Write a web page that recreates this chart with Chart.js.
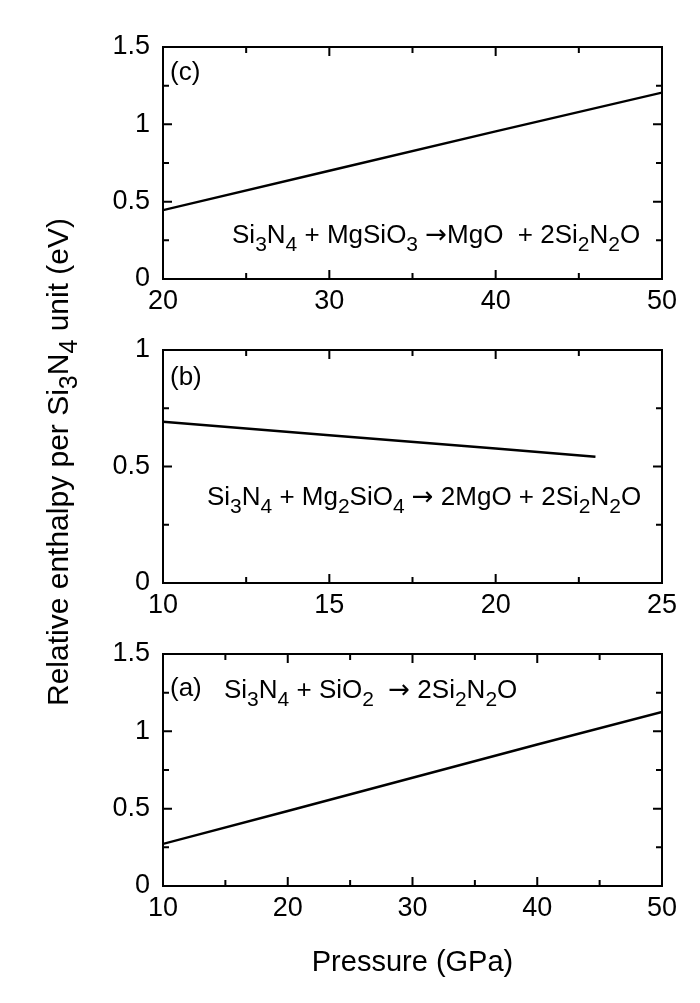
<!DOCTYPE html>
<html>
<head>
<meta charset="utf-8">
<title>Relative enthalpy vs pressure</title>
<script src="https://cdn.jsdelivr.net/npm/chart.js@4.4.1/dist/chart.umd.min.js"></script>
<style>
  html, body { margin: 0; padding: 0; background: #fff; }
  #wrap { position: relative; width: 700px; height: 1003px; }
  #wrap canvas { position: absolute; left: 0; top: 0; }
</style>
</head>
<body>
<div id="wrap">
  <canvas id="chartC" width="700" height="1003"></canvas>
  <canvas id="chartB" width="700" height="1003"></canvas>
  <canvas id="chartA" width="700" height="1003"></canvas>
</div>
<script>
// panel (c): Si3N4 + MgSiO3 -> MgO + 2Si2N2O
const pressureC = [20, 30, 40, 50];
const enthalpyC = [0.445, 0.70, 0.955, 1.205];
const xTicksC = [20, 30, 40, 50];
const yTicksC = [0, 0.5, 1, 1.5];

// panel (b): Si3N4 + Mg2SiO4 -> 2MgO + 2Si2N2O
const pressureB = [10, 15, 20, 23];
const enthalpyB = [0.692, 0.634, 0.577, 0.542];
const xTicksB = [10, 15, 20, 25];
const yTicksB = [0, 0.5, 1];

// panel (a): Si3N4 + SiO2 -> 2Si2N2O
const pressureA = [10, 20, 30, 40, 50];
const enthalpyA = [0.272, 0.485, 0.70, 0.915, 1.125];
const xTicksA = [10, 20, 30, 40, 50];
const yTicksA = [0, 0.5, 1, 1.5];

const FONT = '"Liberation Sans", Arial, Helvetica, sans-serif';
const ARROW_FONT = '"DejaVu Sans", sans-serif';
const PAGE_H = 1003;

// "_" marks the next character as a subscript; the arrow gets a wider font
function setFont(ctx, ch, sub, size) {
    const s = sub ? Math.round(size * 0.82) : size;
    ctx.font = s + 'px ' + (ch === '\u2192' ? ARROW_FONT : FONT);
}

function richWidth(ctx, str, size) {
    let w = 0;
    for (let i = 0; i < str.length; i++) {
        let ch = str[i], sub = false;
        if (ch === '_') { sub = true; ch = str[++i]; }
        setFont(ctx, ch, sub, size);
        w += ctx.measureText(ch).width;
    }
    return w;
}

function drawRich(ctx, str, x, y, size) {
    let cx = x;
    ctx.textBaseline = 'alphabetic';
    ctx.textAlign = 'left';
    for (let i = 0; i < str.length; i++) {
        let ch = str[i], sub = false;
        if (ch === '_') { sub = true; ch = str[++i]; }
        setFont(ctx, ch, sub, size);
        ctx.fillText(ch, cx, sub ? y + size * 0.3 : y);
        cx += ctx.measureText(ch).width;
    }
}

// box with inward ticks on all four sides + text notes
const framePlugin = {
    id: 'frame',
    afterDatasetsDraw(chart, args, opts) {
        const { ctx, chartArea: a } = chart;
        const xs = chart.scales.x, ys = chart.scales.y;
        const major = 9, minor = 6;
        ctx.save();
        ctx.strokeStyle = '#000';
        ctx.lineWidth = 2;
        ctx.beginPath();

        const xv = xs.ticks.map(t => t.value);
        xv.forEach((v, i) => {
            const px = xs.getPixelForValue(v);
            ctx.moveTo(px, a.bottom); ctx.lineTo(px, a.bottom - major);
            ctx.moveTo(px, a.top); ctx.lineTo(px, a.top + major);
            if (i < xv.length - 1) {
                const mx = xs.getPixelForValue((v + xv[i + 1]) / 2);
                ctx.moveTo(mx, a.bottom); ctx.lineTo(mx, a.bottom - minor);
                ctx.moveTo(mx, a.top); ctx.lineTo(mx, a.top + minor);
            }
        });
        const yv = ys.ticks.map(t => t.value);
        yv.forEach((v, i) => {
            const py = ys.getPixelForValue(v);
            ctx.moveTo(a.left, py); ctx.lineTo(a.left + major, py);
            ctx.moveTo(a.right, py); ctx.lineTo(a.right - major, py);
            if (i < yv.length - 1) {
                const my = ys.getPixelForValue((v + yv[i + 1]) / 2);
                ctx.moveTo(a.left, my); ctx.lineTo(a.left + minor, my);
                ctx.moveTo(a.right, my); ctx.lineTo(a.right - minor, my);
            }
        });
        ctx.stroke();
        ctx.strokeRect(a.left, a.top, a.right - a.left, a.bottom - a.top);

        ctx.fillStyle = '#000';
        (opts.notes || []).forEach(n => {
            drawRich(ctx, n.text, xs.getPixelForValue(n.x), ys.getPixelForValue(n.y), 26);
        });
        ctx.restore();
    }
};

// shared axis titles, drawn once on the bottom panel's canvas
const titlePlugin = {
    id: 'titles',
    afterDraw(chart, args, opts) {
        if (!opts.show) return;
        const ctx = chart.ctx;
        ctx.save();
        ctx.fillStyle = '#000';
        const yTitle = 'Relative enthalpy per Si_3N_4 unit (eV)';
        const w = richWidth(ctx, yTitle, 30);
        ctx.translate(68, 462);
        ctx.rotate(-Math.PI / 2);
        drawRich(ctx, yTitle, -w / 2, 0, 30);
        ctx.restore();

        ctx.save();
        ctx.fillStyle = '#000';
        ctx.font = '29px ' + FONT;
        ctx.textAlign = 'center';
        ctx.textBaseline = 'alphabetic';
        ctx.fillText('Pressure (GPa)', (chart.chartArea.left + chart.chartArea.right) / 2, 971);
        ctx.restore();
    }
};

function makePanel(id, xs, ys, xTicks, yTicks, top, bottom, notes, showTitles) {
    const ctx = document.getElementById(id).getContext('2d');
    return new Chart(ctx, {
        type: 'line',
        data: {
            datasets: [{
                data: xs.map((x, i) => ({ x: x, y: ys[i] })),
                borderColor: '#000',
                borderWidth: 2.4,
                pointRadius: 0,
                tension: 0,
                fill: false
            }]
        },
        options: {
            responsive: false,
            animation: false,
            events: [],
            layout: {
                padding: { left: 0, right: 38, top: top, bottom: PAGE_H - bottom - 40 }
            },
            plugins: {
                legend: { display: false },
                tooltip: { enabled: false },
                frame: { notes: notes },
                titles: { show: showTitles }
            },
            scales: {
                x: {
                    type: 'linear',
                    min: xTicks[0],
                    max: xTicks[xTicks.length - 1],
                    grid: { display: false, drawTicks: false },
                    border: { display: false },
                    ticks: {
                        color: '#000', font: { family: FONT, size: 27 }, padding: 6, maxRotation: 0,
                        callback: v => String(v)
                    },
                    afterBuildTicks: s => { s.ticks = xTicks.map(v => ({ value: v })); },
                    afterFit: s => { s.height = 40; }
                },
                y: {
                    type: 'linear',
                    min: yTicks[0],
                    max: yTicks[yTicks.length - 1],
                    grid: { display: false, drawTicks: false },
                    border: { display: false },
                    ticks: {
                        color: '#000', font: { family: FONT, size: 27 }, padding: 13,
                        callback: v => String(v)
                    },
                    afterBuildTicks: s => { s.ticks = yTicks.map(v => ({ value: v })); },
                    afterFit: s => { s.width = 163; }
                }
            }
        },
        plugins: [framePlugin, titlePlugin]
    });
}

makePanel('chartC', pressureC, enthalpyC, xTicksC, yTicksC, 47, 279, [
    { text: '(c)', x: 20.42, y: 1.287 },
    { text: 'Si_3N_4 + MgSiO_3 \u2192MgO  + 2Si_2N_2O', x: 24.15, y: 0.233 }
], false);

makePanel('chartB', pressureB, enthalpyB, xTicksB, yTicksB, 350, 583, [
    { text: '(b)', x: 10.21, y: 0.85 },
    { text: 'Si_3N_4 + Mg_2SiO_4 \u2192 2MgO + 2Si_2N_2O', x: 11.32, y: 0.335 }
], false);

makePanel('chartA', pressureA, enthalpyA, xTicksA, yTicksA, 654, 886, [
    { text: '(a)', x: 10.56, y: 1.228 },
    { text: 'Si_3N_4 + SiO_2  \u2192 2Si_2N_2O', x: 14.89, y: 1.216 }
], true);
</script>
</body>
</html>
